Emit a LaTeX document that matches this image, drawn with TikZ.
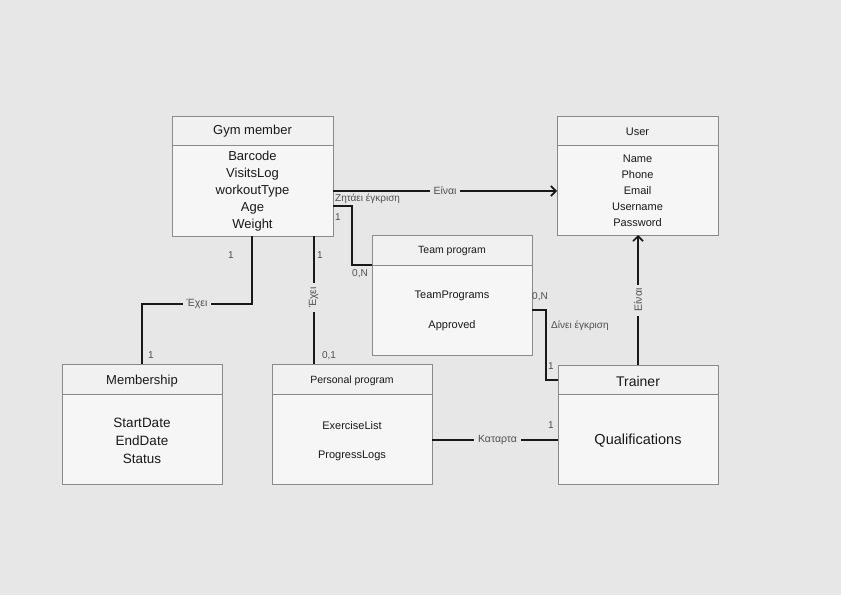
\documentclass[tikz,border=0pt]{standalone}
\usepackage{fontspec}
\setmainfont{Liberation Sans}
\usetikzlibrary{arrows.meta,shadows}
\definecolor{bg}{HTML}{E7E7E7}
\definecolor{boxfill}{HTML}{F6F6F6}
\definecolor{hdfill}{HTML}{F1F1F1}
\definecolor{boxline}{HTML}{8A8A8A}
\definecolor{lbl}{HTML}{505050}
\begin{document}
\begin{tikzpicture}[x=1pt,y=-1pt,
  box/.style={draw=boxline, line width=0.8pt, fill=boxfill, anchor=north west, inner sep=0pt, outer sep=0pt,
    drop shadow={opacity=0.18, shadow xshift=1pt, shadow yshift=-1pt}},
  divider/.style={draw=boxline, line width=0.8pt},
  bigtxt/.style={font=\fontsize{13}{17}\selectfont, align=center, inner sep=0pt, text=black!90},
  midtxt/.style={font=\fontsize{11}{16}\selectfont, align=center, inner sep=0pt, text=black!90},
  smalltxt/.style={font=\fontsize{10.5}{13}\selectfont, inner sep=0pt, text=black!90},
  conn/.style={line width=2pt, draw=black!90},
  rel/.style={font=\fontsize{10.5}{12}\selectfont, text=lbl, fill=bg, inner sep=4pt},
  card/.style={font=\fontsize{10}{12}\selectfont, text=lbl, inner sep=0pt},
  arr/.style={-{Straight Barb[length=5pt,width=10pt,line width=1.6pt]}}
]
\fill[bg] (0,0) rectangle (841,595);
\useasboundingbox (0,0) rectangle (841,595);

% Gym member
\node[box, minimum width=161pt, minimum height=120pt] (gm) at (172,116) {};
\fill[hdfill] (gm.north west) rectangle (333,145);
\draw[divider] (gm.north west) rectangle (gm.south east);
\draw[divider] (172,145) -- (333,145);
\node[bigtxt] (gmh) at (252.5,131) {Gym member};
\node[bigtxt] (gma) at (252.5,191) {Barcode\\VisitsLog\\workoutType\\Age\\Weight};

% User
\node[box, minimum width=161pt, minimum height=119pt] (us) at (557,116) {};
\fill[hdfill] (us.north west) rectangle (718,145);
\draw[divider] (us.north west) rectangle (us.south east);
\draw[divider] (557,145) -- (718,145);
\node[midtxt] (ush) at (637.5,132) {User};
\node[midtxt] (usa) at (637.5,191) {Name\\Phone\\Email\\Username\\Password};

% Team program
\node[box, minimum width=160pt, minimum height=120pt] (tp) at (372,235) {};
\fill[hdfill] (tp.north west) rectangle (532,265);
\draw[divider] (tp.north west) rectangle (tp.south east);
\draw[divider] (372,265) -- (532,265);
\node[smalltxt] (tph) at (452,251) {Team program};
\node[midtxt] (tpa) at (452,296) {TeamPrograms};
\node[midtxt] (tpb) at (452,326) {Approved};

% Membership
\node[box, minimum width=160pt, minimum height=120pt] (ms) at (62,364) {};
\fill[hdfill] (ms.north west) rectangle (222,394);
\draw[divider] (ms.north west) rectangle (ms.south east);
\draw[divider] (62,394) -- (222,394);
\node[bigtxt] (msh) at (142,381) {Membership};
\node[bigtxt, font=\fontsize{13.5}{18}\selectfont] (msa) at (142,441) {StartDate\\EndDate\\Status};

% Personal program
\node[box, minimum width=160pt, minimum height=120pt] (pp) at (272,364) {};
\fill[hdfill] (pp.north west) rectangle (432,394);
\draw[divider] (pp.north west) rectangle (pp.south east);
\draw[divider] (272,394) -- (432,394);
\node[smalltxt] (pph) at (352,381) {Personal program};
\node[midtxt] (ppa) at (352,426) {ExerciseList};
\node[midtxt] (ppb) at (352,456) {ProgressLogs};

% Trainer
\node[box, minimum width=160pt, minimum height=119pt] (tr) at (558,365) {};
\fill[hdfill] (tr.north west) rectangle (718,394);
\draw[divider] (tr.north west) rectangle (tr.south east);
\draw[divider] (558,394) -- (718,394);
\node[bigtxt, font=\fontsize{14}{17}\selectfont] (trh) at (638,381) {Trainer};
\node[bigtxt, font=\fontsize{14.5}{17}\selectfont] (tra) at (638,441) {Qualifications};

% Gym member -> User
\draw[conn, arr] (gm.east |- 0,191) -- node[rel] {Είναι} (us.west |- 0,191);

% Gym member -- Team program
\draw[conn] (gm.east |- 0,206) -- (352,206) -- (352,265) -- (tp.west |- 0,265);
\node[card, anchor=west] (l1) at (335,199) {Ζητάει έγκριση};
\node[card] (c1) at (338,217) {1};
\node[card] (c2) at (360,274) {0,N};

% Gym member -- Membership
\draw[conn] (gm.south -| 252,0) -- (252,304) -- node[rel] {Έχει} (142,304) -- (ms.north -| 142,0);
\node[card] (c3) at (231,255) {1};
\node[card] (c4) at (151,355) {1};

% Gym member -- Personal program
\draw[conn] (gm.south -| 313.5,0) -- node[rel, rotate=90, pos=0.48] {Έχει} (pp.north -| 313.5,0);
\node[card] (c5) at (320,255) {1};
\node[card] (c6) at (329,356) {0,1};

% Team program -- Trainer
\draw[conn] (tp.east |- 0,310) -- (546,310) -- (546,380) -- (tr.west |- 0,380);
\node[card] (c7) at (540,297) {0,N};
\node[card, anchor=west] (l2) at (551,326) {Δίνει έγκριση};
\node[card] (c8) at (551,366) {1};

% Personal program -- Trainer
\draw[conn] (pp.east |- 0,440) -- node[rel, pos=0.52] {Καταρτα} (tr.west |- 0,440);
\node[card] (c9) at (551,425) {1};

% Trainer -> User
\draw[conn, arr] (tr.north -| 638,0) -- node[rel, rotate=90] {Είναι} (us.south -| 638,0);
\end{tikzpicture}
\end{document}
